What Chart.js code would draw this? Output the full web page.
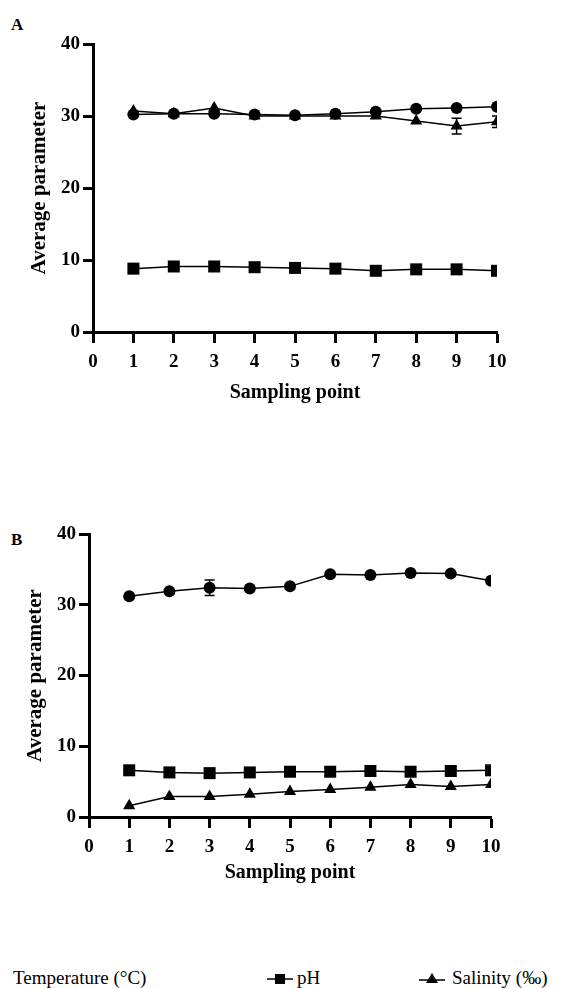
<!DOCTYPE html>
<html>
<head>
<meta charset="utf-8">
<script src="https://cdn.jsdelivr.net/npm/chart.js@4"></script>
<style>
  body { margin: 0; background: #fff; width: 576px; height: 988px; position: relative; overflow: hidden; font-family: "Liberation Serif", "Times New Roman", serif; }
  .panel { position: absolute; left: 0; width: 530px; height: 420px; }
  .tag { position: absolute; font-weight: bold; font-size: 17px; line-height: 17px; }
  #legend { position: absolute; left: 0; top: 968px; width: 576px; height: 19px; font-size: 19px; line-height: 19px; }
  #legend span, #legend svg { position: absolute; top: 0; }
</style>
</head>
<body>
<div class="tag" style="left:11px;top:16px">A</div>
<div class="panel" style="top:0"><canvas id="chartA"></canvas></div>
<div class="tag" style="left:11px;top:531px">B</div>
<div class="panel" style="top:490px"><canvas id="chartB"></canvas></div>
<div id="legend">
  <span style="left:13px">Temperature (°C)</span>
  <svg style="left:267px" width="26" height="19"><line x1="0" y1="11" x2="26" y2="11" stroke="#000" stroke-width="1.5"/><rect x="8" y="6" width="10" height="10" fill="#000"/></svg>
  <span style="left:297px">pH</span>
  <svg style="left:419px" width="26" height="19"><line x1="0" y1="12" x2="26" y2="12" stroke="#000" stroke-width="1.5"/><polygon points="13,5 19,15 7,15" fill="#000"/></svg>
  <span style="left:452px">Salinity (‰)</span>
</div>
<script>
"use strict";
const SAMPLING_POINTS = [1, 2, 3, 4, 5, 6, 7, 8, 9, 10];
const X_TICKS = [0, 1, 2, 3, 4, 5, 6, 7, 8, 9, 10];
const Y_TICKS = [0, 10, 20, 30, 40];

// panel A
const TEMP_A = [30.2, 30.3, 30.3, 30.2, 30.1, 30.3, 30.6, 31.0, 31.1, 31.3];
const TEMP_A_ERR = [0, 0, 0, 0, 0, 0, 0, 0, 0, 0];
const PH_A = [8.8, 9.1, 9.1, 9.0, 8.9, 8.8, 8.5, 8.7, 8.7, 8.5];
const PH_A_ERR = [0, 0, 0, 0, 0, 0, 0, 0, 0, 0];
const SAL_A = [30.7, 30.3, 31.1, 30.0, 30.0, 30.0, 30.0, 29.3, 28.6, 29.2];
const SAL_A_ERR = [0, 0, 0, 0, 0, 0, 0, 0, 1.1, 0.8];

// panel B
const TEMP_B = [31.2, 31.9, 32.4, 32.3, 32.6, 34.3, 34.2, 34.5, 34.4, 33.4];
const TEMP_B_ERR = [0, 0, 1.1, 0, 0, 0, 0, 0, 0, 0];
const PH_B = [6.6, 6.3, 6.2, 6.3, 6.4, 6.4, 6.5, 6.4, 6.5, 6.6];
const PH_B_ERR = [0, 0, 0, 0, 0, 0, 0, 0, 0, 0];
const SAL_B = [1.6, 2.9, 2.9, 3.2, 3.6, 3.9, 4.2, 4.6, 4.3, 4.6];
const SAL_B_ERR = [0, 0, 0, 0, 0, 0, 0, 0, 0, 0];

const FONT = "'Liberation Serif', 'Times New Roman', serif";

const errorBars = {
  id: "errorBars",
  afterDatasetsDraw(chart) {
    const { ctx, chartArea, scales } = chart;
    ctx.save();
    ctx.beginPath();
    ctx.rect(chartArea.left - 20, chartArea.top - 20, chartArea.right - chartArea.left + 20, chartArea.bottom - chartArea.top + 40);
    ctx.clip();
    ctx.strokeStyle = "#000";
    ctx.lineWidth = 1.5;
    chart.data.datasets.forEach((ds) => {
      (ds.errors || []).forEach((e, i) => {
        if (!e) return;
        const x = scales.x.getPixelForValue(ds.data[i].x);
        const yTop = scales.y.getPixelForValue(ds.data[i].y + e);
        const yBot = scales.y.getPixelForValue(ds.data[i].y - e);
        ctx.beginPath();
        ctx.moveTo(x, yTop); ctx.lineTo(x, yBot);
        ctx.moveTo(x - 5, yTop); ctx.lineTo(x + 5, yTop);
        ctx.moveTo(x - 5, yBot); ctx.lineTo(x + 5, yBot);
        ctx.stroke();
      });
    });
    ctx.restore();
  },
};

function series(label, values, errors, style, radius) {
  return {
    label: label,
    data: values.map((v, i) => ({ x: SAMPLING_POINTS[i], y: v })),
    errors: errors,
    borderColor: "#000",
    backgroundColor: "#000",
    borderWidth: 1.5,
    pointStyle: style,
    pointRadius: radius,
    pointHoverRadius: radius,
    pointBorderWidth: 0,
    tension: 0,
    clip: { left: 20, top: 20, right: 0, bottom: 20 },
  };
}

function axisFont(size) {
  return { family: FONT, size: size, weight: "bold" };
}

function makeChart(id, p) {
  const ctx = document.getElementById(id).getContext("2d");
  return new Chart(ctx, {
    type: "line",
    data: {
      datasets: [
        series("Salinity (‰)", p.sal, p.salErr, "triangle", 7),
        series("pH", p.ph, p.phErr, "rect", 8.5),
        series("Temperature (°C)", p.temp, p.tempErr, "circle", 6),
      ],
    },
    options: {
      responsive: true,
      maintainAspectRatio: false,
      animation: false,
      layout: { padding: { top: 44, right: p.rightPad, left: 0, bottom: 0 } },
      plugins: { legend: { display: false }, tooltip: { enabled: false } },
      scales: {
        x: {
          type: "linear",
          min: 0,
          max: 10,
          afterBuildTicks: (s) => { s.ticks = X_TICKS.map((v) => ({ value: v })); },
          afterFit: (s) => { s.height = p.xHeight; },
          border: { display: true, color: "#000", width: 3 },
          grid: { drawOnChartArea: false, drawTicks: true, tickLength: 11, tickWidth: 3, tickColor: "#000" },
          ticks: { color: "#000", font: axisFont(19), padding: 8, maxRotation: 0, autoSkip: false },
          title: { display: true, text: "Sampling point", color: "#000", font: axisFont(20), padding: { top: 0, bottom: p.titlePad } },
        },
        y: {
          min: 0,
          max: 40,
          afterBuildTicks: (s) => { s.ticks = Y_TICKS.map((v) => ({ value: v })); },
          afterFit: (s) => { s.width = p.yWidth; },
          border: { display: true, color: "#000", width: 3 },
          grid: { drawOnChartArea: false, drawTicks: true, tickLength: 10, tickWidth: 3, tickColor: "#000" },
          ticks: { color: "#000", font: axisFont(19), padding: 3 },
          title: { display: true, text: "Average parameter", color: "#000", font: axisFont(21), padding: { top: p.yWidth - 66, bottom: 0 } },
        },
      },
    },
    plugins: [errorBars],
  });
}

makeChart("chartA", {
  temp: TEMP_A, tempErr: TEMP_A_ERR, ph: PH_A, phErr: PH_A_ERR, sal: SAL_A, salErr: SAL_A_ERR,
  yWidth: 93, rightPad: 33, xHeight: 88, titlePad: 15,
});
makeChart("chartB", {
  temp: TEMP_B, tempErr: TEMP_B_ERR, ph: PH_B, phErr: PH_B_ERR, sal: SAL_B, salErr: SAL_B_ERR,
  yWidth: 89, rightPad: 39, xHeight: 93, titlePad: 25,
});
</script>
</body>
</html>
